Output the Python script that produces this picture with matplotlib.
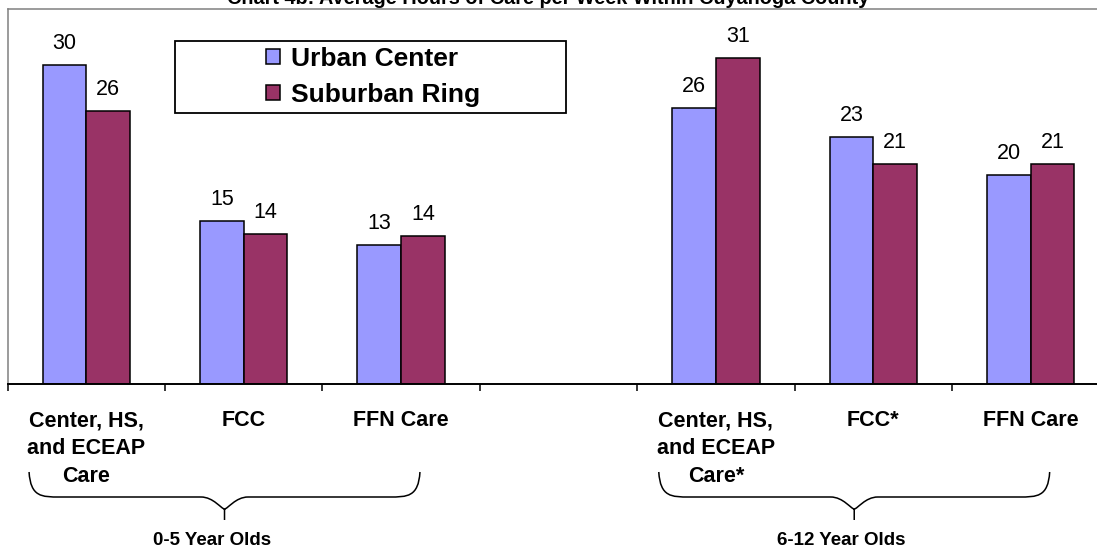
import numpy as np
import matplotlib
matplotlib.use("Agg")
import matplotlib.pyplot as plt
from matplotlib.patches import Rectangle, PathPatch
from matplotlib.path import Path
import matplotlib.transforms as mtransforms

plt.rcParams["font.family"] = ["Liberation Sans", "DejaVu Sans"]

# =========================================
# DATA
# =========================================
categories = [
    "Center, HS,\nand ECEAP\nCare",
    "FCC",
    "FFN Care",
    "",
    "Center, HS,\nand ECEAP\nCare*",
    "FCC*",
    "FFN Care",
]
urban = [30.1, 15.4, 13.1, np.nan, 26.1, 23.3, 19.7]
suburban = [25.8, 14.2, 14.0, np.nan, 30.8, 20.8, 20.8]
series_names = ["Urban Center", "Suburban Ring"]
group_names = ["0-5 Year Olds", "6-12 Year Olds"]
group_members = [(0, 2), (4, 6)]
title = "Chart 4b: Average Hours of Care per Week Within Cuyahoga County"

urban_color = "#9999FF"
suburban_color = "#993366"

# =========================================
# FIGURE
# =========================================
W, H = 1097, 550
fig = plt.figure(figsize=(W / 100, H / 100), dpi=100)

# plot area (pixels measured from the top-left of the picture)
left_px, right_px, top_px, bottom_px = 7.5, 1109.5, 9, 384
ax = fig.add_axes([
    left_px / W,
    1 - bottom_px / H,
    (right_px - left_px) / W,
    (bottom_px - top_px) / H,
])

x = np.arange(len(categories))
bw = 0.277

bars_u = ax.bar(x - bw / 2, urban, bw, color=urban_color,
                edgecolor="black", linewidth=1.1, label=series_names[0])
bars_s = ax.bar(x + bw / 2, suburban, bw, color=suburban_color,
                edgecolor="black", linewidth=1.1, label=series_names[1])

for bars, vals in [(bars_u, urban), (bars_s, suburban)]:
    for b, v in zip(bars, vals):
        if np.isnan(v):
            continue
        ax.annotate(f"{v:.0f}", (b.get_x() + b.get_width() / 2, v),
                    xytext=(0, 11.5), textcoords="offset points",
                    ha="center", va="baseline", fontsize=15.5)

ax.set_xlim(-0.5, len(categories) - 0.5)
ax.set_ylim(0, 35.4)
ax.set_yticks([])

# boundary ticks and category labels
ax.set_xticks(np.arange(len(categories) + 1) - 0.5)
ax.set_xticklabels([])
ax.tick_params(axis="x", which="major", direction="out", length=5,
               width=1.1, color="black")
ax.set_xticks(x, minor=True)
ax.set_xticklabels(categories, minor=True, fontsize=15.5, fontweight="bold")
ax.tick_params(axis="x", which="minor", length=0, pad=19)
for lab in ax.get_xticklabels(minor=True):
    lab.set_linespacing(1.42)

for side in ["left", "top"]:
    ax.spines[side].set_color("#808080")
    ax.spines[side].set_linewidth(1.1)
ax.spines["bottom"].set_color("black")
ax.spines["bottom"].set_linewidth(1.4)
ax.spines["right"].set_visible(False)

# =========================================
# LEGEND
# =========================================
bx0, bx1, by0, by1 = 175, 566, 41, 113
fig.patches.append(Rectangle(
    (bx0 / W, 1 - by1 / H), (bx1 - bx0) / W, (by1 - by0) / H,
    transform=fig.transFigure, fill=False, edgecolor="black", linewidth=1.3))
ax.legend(loc="center",
          bbox_to_anchor=((bx0 + bx1) / 2 / W + 3 / W,
                          1 - (by0 + by1) / 2 / H),
          bbox_transform=fig.transFigure, frameon=False,
          prop={"weight": "bold", "size": 19},
          handlelength=0.53, handleheight=0.53, handletextpad=0.42,
          labelspacing=0.45, borderpad=0)

# =========================================
# GROUP BRACES
# =========================================
trans = mtransforms.blended_transform_factory(ax.transData, ax.transAxes)


def yfrac(ypx):
    return (bottom_px - ypx) / (bottom_px - top_px)


y_top, y_arm, y_v, y_tip = yfrac(472), yfrac(497), yfrac(509), yfrac(520)
for (a, b), name in zip(group_members, group_names):
    x0 = a - 0.363
    x1 = b + 0.12
    xc = (x0 + x1) / 2
    verts, codes = [], []
    for s, xe in [(1, x0), (-1, x1)]:
        verts += [(xe, y_top), (xe + s * 0.01, y_arm), (xe + s * 0.08, y_arm),
                  (xe + s * 0.195, y_arm), (xc - s * 0.15, y_arm),
                  (xc - s * 0.07, y_arm), (xc - s * 0.02, y_v), (xc, y_v)]
        codes += [Path.MOVETO, Path.CURVE4, Path.CURVE4, Path.CURVE4,
                  Path.LINETO, Path.CURVE4, Path.CURVE4, Path.CURVE4]
    verts += [(xc, y_v), (xc, y_tip)]
    codes += [Path.MOVETO, Path.LINETO]
    ax.add_patch(PathPatch(Path(verts, codes), transform=trans, fill=False,
                           edgecolor="black", linewidth=1.1, clip_on=False))
    ax.text(xc - 0.08, yfrac(545), name, transform=trans, ha="center",
            va="baseline", fontsize=13.5, fontweight="bold")

# =========================================
# TITLE (cut off at the top, as in the source)
# =========================================
fig.text(0.4995, 1 - 4.5 / H, title, ha="center", va="baseline",
         fontsize=14.3, fontweight="bold")

plt.savefig("out.png", dpi=100)
